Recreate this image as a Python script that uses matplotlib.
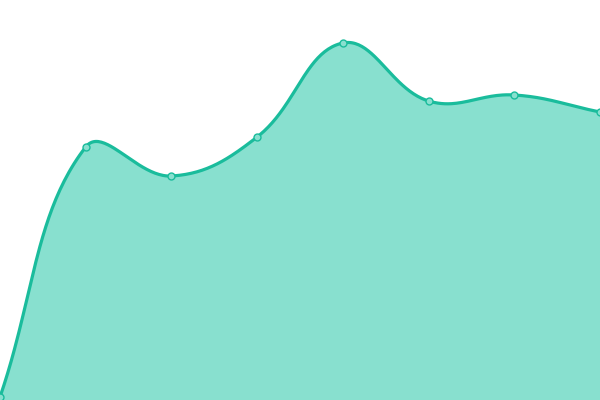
import numpy as np
import matplotlib
matplotlib.use("Agg")
import matplotlib.pyplot as plt

categories = [0, 1, 2, 3, 4, 5, 6, 7]
values = [3, 253, 224, 263, 357, 299, 305, 288]

LINE = "#1abc9c"
FILL = "#88e0cf"
TENSION = 0.4

fig = plt.figure(figsize=(6, 4), dpi=100)
ax = fig.add_axes([0, 0, 1, 1])
ax.set_xlim(0, 7)
ax.set_ylim(0, 400)
ax.axis("off")

# spline in display space (Chart.js style), then back to data space
pts = ax.transData.transform(np.column_stack([categories, values]))
n = len(pts)
curve = []
cps = []
for i in range(n):
    prev = pts[max(i - 1, 0)]
    cur = pts[i]
    nxt = pts[min(i + 1, n - 1)]
    d01 = np.hypot(*(cur - prev))
    d12 = np.hypot(*(nxt - cur))
    tot = d01 + d12
    s01 = d01 / tot if tot else 0
    s12 = d12 / tot if tot else 0
    fa = TENSION * s01
    fb = TENSION * s12
    cps.append((cur - fa * (nxt - prev), cur + fb * (nxt - prev)))

t = np.linspace(0, 1, 50)[:, None]
for i in range(n - 1):
    p0 = pts[i]; p3 = pts[i + 1]
    c1 = cps[i][1]; c2 = cps[i + 1][0]
    seg = ((1 - t) ** 3) * p0 + 3 * ((1 - t) ** 2) * t * c1 + 3 * (1 - t) * t ** 2 * c2 + t ** 3 * p3
    if i > 0:
        seg = seg[1:]
    curve.append(seg)
curve = np.vstack(curve)
data_curve = ax.transData.inverted().transform(curve)
sx, sy = data_curve[:, 0], data_curve[:, 1]

ax.fill_between(sx, 0, sy, color=FILL, linewidth=0)
ax.plot(sx, sy, color=LINE, linewidth=2.3, solid_capstyle="round")
ax.plot(categories, values, "o", markersize=5, markerfacecolor=FILL,
        markeredgecolor=LINE, markeredgewidth=1, clip_on=False)
fig.savefig("out.png", dpi=100)
